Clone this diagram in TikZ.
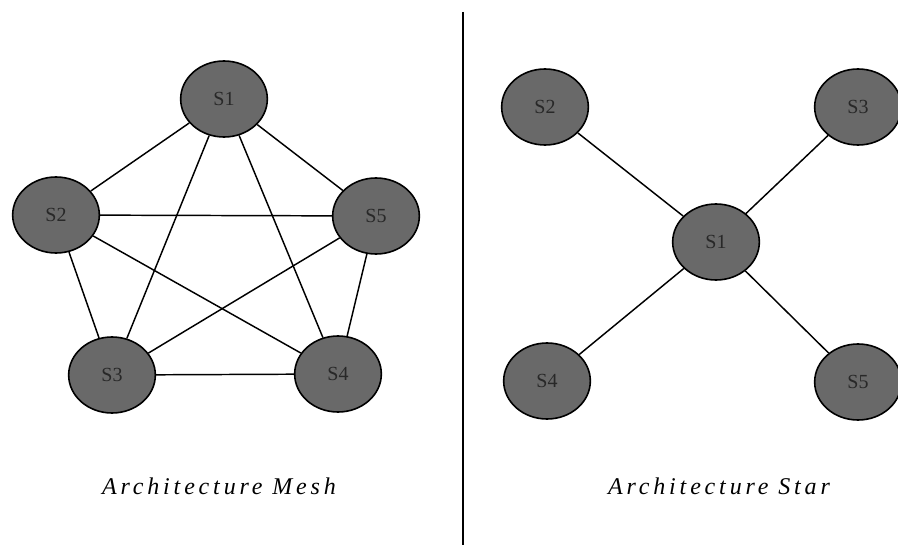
\documentclass[tikz,border=0pt]{standalone}
\usepackage{fontspec}
\setmainfont{Liberation Serif}
\newfontfamily\archfont[LetterSpace=16]{Liberation Serif}
\usetikzlibrary{shapes.geometric}

\tikzset{every picture/.style={line width=0.75pt}}
\tikzset{
  site/.style={ellipse, draw, line width=1.2pt, fill={rgb, 255:red, 105; green, 105; blue, 105 },
    minimum width=65pt, minimum height=57pt, inner sep=0pt, font=\fontsize{15}{17}\selectfont, text={rgb, 255:red, 40; green, 40; blue, 40 }},
  link/.style={line width=1.1pt},
  archlabel/.style={font=\archfont\itshape\fontsize{18}{20}\selectfont}
}

\begin{document}
\begin{tikzpicture}[x=0.75pt,y=0.75pt,yscale=-1,xscale=1]
    \useasboundingbox (0,0) rectangle (898,545);

    %Mesh sites
    \node [site] (m1) at (224,99) {S1};
    \node [site] (m2) at (56,215) {S2};
    \node [site] (m5) at (376,216) {S5};
    \node [site] (m3) at (112,375) {S3};
    \node [site] (m4) at (338,374) {S4};
    %Mesh links
    \draw [link] (m1) -- (m2) ;
    \draw [link] (m1) -- (m5) ;
    \draw [link] (m1) -- (m3) ;
    \draw [link] (m1) -- (m4) ;
    \draw [link] (m2) -- (m5) ;
    \draw [link] (m2) -- (m3) ;
    \draw [link] (m2) -- (m4) ;
    \draw [link] (m5) -- (m3) ;
    \draw [link] (m5) -- (m4) ;
    \draw [link] (m3) -- (m4) ;

    %Separator
    \coordinate (septop) at (463,12);
    \coordinate (sepbot) at (463,545);
    \draw [line width=1.2pt] (septop) -- (sepbot) ;

    %Star sites
    \node [site] (s1) at (716,242) {S1};
    \node [site] (s2) at (545,107) {S2};
    \node [site] (s3) at (858,107) {S3};
    \node [site] (s4) at (547,381) {S4};
    \node [site] (s5) at (858,382) {S5};
    %Star links
    \draw [link] (s1) -- (s2) ;
    \draw [link] (s1) -- (s3) ;
    \draw [link] (s1) -- (s4) ;
    \draw [link] (s1) -- (s5) ;

    %Captions
    \node [archlabel] (meshlabel) at (219,486) {Architecture Mesh};
    \node [archlabel] (starlabel) at (719,486) {Architecture Star};

\end{tikzpicture}
\end{document}
